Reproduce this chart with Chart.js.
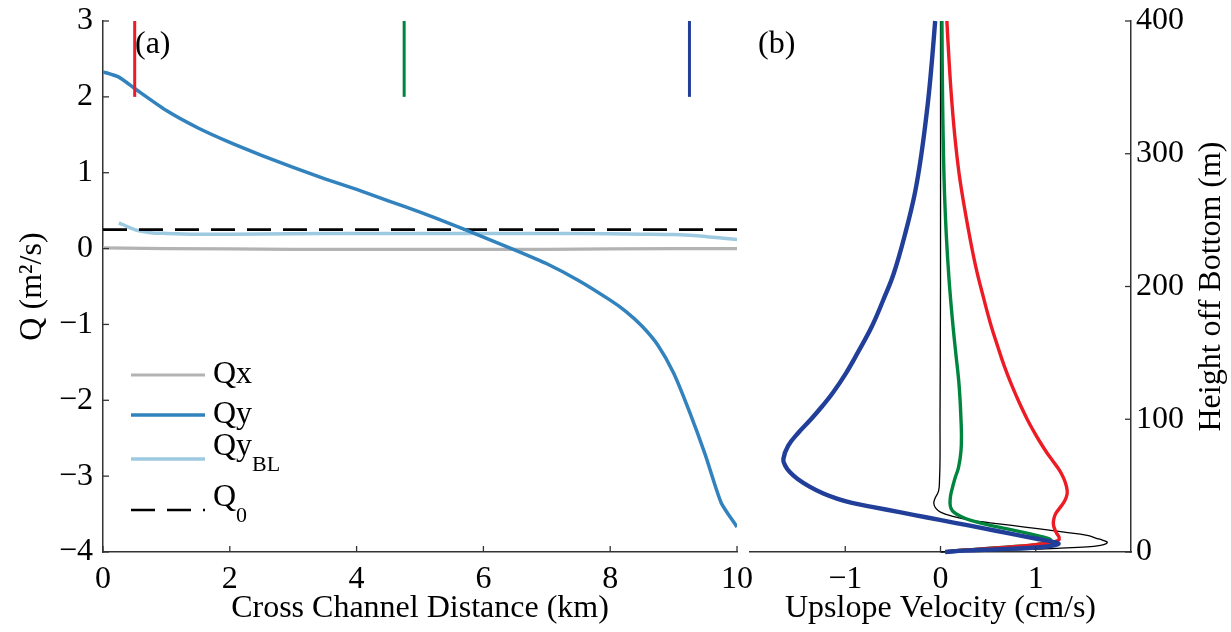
<!DOCTYPE html>
<html>
<head>
<meta charset="utf-8">
<script src="https://cdn.jsdelivr.net/npm/chart.js@4.4.1/dist/chart.umd.min.js"></script>
<style>
  html, body { margin: 0; padding: 0; background: #fff; }
  #wrap { position: relative; width: 1231px; height: 632px; }
  canvas { position: absolute; top: 0; }
  #chartA { left: 0; }
  #chartB { left: 745px; }
</style>
</head>
<body>
<div id="wrap">
  <canvas id="chartA" width="800" height="632"></canvas>
  <canvas id="chartB" width="486" height="632"></canvas>
</div>
<script>
// ---- panel (a): transport vs cross channel distance ----
const qxDist = [0, 1, 2, 3, 4, 5, 6, 7, 8, 9, 10];
const qxVals = [0.01, 0.0, -0.005, -0.01, -0.01, -0.01, -0.01, -0.01, -0.005, 0.0, 0.0];

const qyDist = [0, 0.25, 0.5, 1, 1.5, 2, 2.5, 3, 3.5, 4, 4.5, 5, 5.5, 6, 6.5, 7, 7.5, 8, 8.25, 8.5, 8.75, 9, 9.25, 9.5, 9.75, 10];
const qyVals = [2.33, 2.26, 2.11, 1.82, 1.59, 1.40, 1.23, 1.07, 0.92, 0.78, 0.63, 0.48, 0.32, 0.15, -0.02, -0.20, -0.42, -0.68, -0.83, -1.02, -1.27, -1.64, -2.15, -2.72, -3.35, -3.67];

const qyblDist = [0.25, 0.5, 0.75, 1, 1.5, 2, 3, 4, 5, 6, 7, 8, 8.5, 9, 9.25, 9.5, 9.75, 10];
const qyblVals = [0.34, 0.25, 0.21, 0.20, 0.19, 0.19, 0.195, 0.20, 0.20, 0.20, 0.20, 0.195, 0.19, 0.185, 0.175, 0.16, 0.14, 0.12];

const q0Dist = [0, 10];
const q0Vals = [0.25, 0.25];

// station markers (x position of each profile in panel b)
const markerDist = [0.5, 4.75, 9.25];
const markerSpan = [2, 3];

// ---- panel (b): upslope velocity profiles ----
const hBlue = [0, 1, 2, 3, 4, 5, 6.3, 7.5, 10, 14, 18, 22, 26, 30, 34, 37, 40, 44, 49, 55, 60, 65, 70, 80, 90, 100, 110, 120, 135, 150, 170, 190, 210, 240, 270, 300, 340, 370, 400];
const uBlue = [0.05, 0.25, 0.58, 0.92, 1.10, 1.19, 1.24, 1.19, 1.01, 0.72, 0.44, 0.15, -0.14, -0.43, -0.72, -0.93, -1.08, -1.23, -1.37, -1.50, -1.58, -1.63, -1.65, -1.60, -1.49, -1.36, -1.24, -1.13, -0.99, -0.87, -0.72, -0.60, -0.49, -0.37, -0.27, -0.20, -0.13, -0.09, -0.056];

const hGreen = [0, 1, 2, 3, 4, 5, 6.5, 8, 9, 10.5, 12, 15, 18, 21, 24, 27, 30, 33, 36.5, 42, 47, 55, 64, 76, 88, 100, 115, 130, 150, 175, 205, 240, 280, 340, 400];
const uGreen = [0.05, 0.17, 0.36, 0.55, 0.75, 0.94, 1.07, 1.14, 1.16, 1.12, 1.04, 0.86, 0.66, 0.47, 0.31, 0.21, 0.14, 0.11, 0.10, 0.105, 0.12, 0.15, 0.19, 0.215, 0.22, 0.215, 0.205, 0.19, 0.16, 0.125, 0.09, 0.06, 0.038, 0.022, 0.015];

const hRed = [0, 1, 2, 3, 4.3, 6, 7.5, 9, 11, 14, 17, 21, 25, 29, 33, 38, 44, 50, 56, 62, 68, 75, 84, 92, 100, 112, 127, 140, 155, 172, 192, 215, 242, 280, 310, 340, 370, 400];
const uRed = [0.05, 0.17, 0.37, 0.58, 0.84, 1.06, 1.19, 1.24, 1.245, 1.22, 1.20, 1.185, 1.19, 1.21, 1.25, 1.30, 1.33, 1.32, 1.29, 1.245, 1.185, 1.115, 1.035, 0.97, 0.91, 0.83, 0.74, 0.67, 0.60, 0.525, 0.45, 0.37, 0.295, 0.205, 0.155, 0.118, 0.09, 0.067];

const hBlack = [0, 1, 1.8, 2.8, 3.8, 5, 6.3, 7.5, 9, 10.5, 12.6, 15, 17.6, 20, 22, 24, 27, 30, 33, 36.5, 40, 46, 55, 70, 100, 200, 400];
const uBlack = [0, 0.47, 0.84, 1.22, 1.54, 1.68, 1.74, 1.75, 1.70, 1.63, 1.54, 1.30, 1.02, 0.75, 0.52, 0.31, 0.12, 0.0, -0.05, -0.07, -0.06, -0.02, -0.01, -0.005, -0.005, 0, 0];

const distTicks = [0, 2, 4, 6, 8, 10];
const qTicks = [-4, -3, -2, -1, 0, 1, 2, 3];
const velTicks = [-1, 0, 1];
const heightTicks = [0, 100, 200, 300, 400];

const serif = "'Liberation Serif', 'Times New Roman', serif";
Chart.defaults.font.family = serif;
Chart.defaults.font.size = 32;
Chart.defaults.color = '#000';

const RED = '#ed1c24', GREEN = '#00853f', NAVY = '#213f99';
const AXIS = '#333333';

function xy(xs, ys) { return xs.map((x, i) => ({ x: x, y: ys[i] })); }
function minus(v) { return String(v).replace('-', '\u2212'); }
function fixTicks(list) { return scale => { scale.ticks = list.map(v => ({ value: v })); }; }
// pin the plot box: fixed axis size, no extra edge padding for labels
function fitX(h) { return s => { s.height = h; s.paddingLeft = 0; s.paddingRight = 0; }; }
function fitY(w) { return s => { s.width = w; s.paddingTop = 0; s.paddingBottom = 0; }; }

// inward tick marks, drawn from the library's scales
const inTicks = {
    id: 'inTicks',
    afterDatasetsDraw(chart, args, opts) {
        const ctx = chart.ctx;
        const area = chart.chartArea;
        ctx.save();
        ctx.strokeStyle = AXIS;
        ctx.lineWidth = 1.3;
        Object.values(chart.scales).forEach(scale => {
            scale.ticks.forEach(t => {
                const p = scale.getPixelForValue(t.value);
                ctx.beginPath();
                if (scale.position === 'bottom') { ctx.moveTo(p, area.bottom); ctx.lineTo(p, area.bottom - opts.length); }
                else if (scale.position === 'left') { ctx.moveTo(area.left, p); ctx.lineTo(area.left + opts.length, p); }
                else { ctx.moveTo(area.right, p); ctx.lineTo(area.right - opts.length, p); }
                ctx.stroke();
            });
        });
        ctx.restore();
    }
};

// panel letter and an optional bottom-to-top title on the right axis
const panelText = {
    id: 'panelText',
    afterDraw(chart, args, opts) {
        const ctx = chart.ctx;
        const area = chart.chartArea;
        ctx.save();
        ctx.fillStyle = '#000';
        ctx.font = `32px ${serif}`;
        ctx.textBaseline = 'middle';
        ctx.textAlign = 'left';
        ctx.fillText(opts.label, area.left + opts.dx, area.top + opts.dy);
        if (opts.rightTitle) {
            ctx.translate(area.right + opts.rightTitleOffset, (area.top + area.bottom) / 2);
            ctx.rotate(-Math.PI / 2);
            ctx.textAlign = 'center';
            ctx.fillText(opts.rightTitle, 0, 0);
        }
        ctx.restore();
    }
};

// legend inside panel (a), with subscripts
const inLegend = {
    id: 'inLegend',
    afterDraw(chart, args, opts) {
        const ctx = chart.ctx;
        const items = chart.data.datasets.filter(d => d.label);
        ctx.save();
        items.forEach((d, i) => {
            const y = opts.rows[i];
            ctx.strokeStyle = d.borderColor;
            ctx.lineWidth = d.borderWidth;
            ctx.setLineDash(d.borderDash || []);
            ctx.beginPath();
            ctx.moveTo(opts.x0, y);
            ctx.lineTo(opts.x1, y);
            ctx.stroke();
            ctx.setLineDash([]);
            ctx.fillStyle = '#000';
            ctx.textBaseline = 'middle';
            ctx.textAlign = 'left';
            ctx.font = `32px ${serif}`;
            const ty = d.labelSub ? y - 12 : y;
            ctx.fillText(d.label, opts.textX, ty);
            if (d.labelSub) {
                const w = ctx.measureText(d.label).width;
                ctx.font = `22px ${serif}`;
                ctx.fillText(d.labelSub, opts.textX + w, y + 6);
            }
        });
        ctx.restore();
    }
};

const lineBase = { showLine: true, pointRadius: 0, tension: 0, fill: false };

const markerSets = markerDist.map((d, i) => Object.assign({}, lineBase, {
    data: markerSpan.map(v => ({ x: d, y: v })),
    borderColor: [RED, GREEN, NAVY][i],
    borderWidth: 3,
    order: 0
}));

new Chart(document.getElementById('chartA'), {
    type: 'scatter',
    data: {
        datasets: [
            Object.assign({}, lineBase, { label: 'Qx', data: xy(qxDist, qxVals), borderColor: '#b3b3b3', borderWidth: 3.2, order: 4 }),
            Object.assign({}, lineBase, { label: 'Qy', data: xy(qyDist, qyVals), borderColor: '#3182bd', borderWidth: 3.5, tension: 0.2, order: 1 }),
            Object.assign({}, lineBase, { label: 'Qy', labelSub: 'BL', data: xy(qyblDist, qyblVals), borderColor: '#9ecae1', borderWidth: 3.5, tension: 0.3, order: 3 }),
            Object.assign({}, lineBase, { label: 'Q', labelSub: '0', data: xy(q0Dist, q0Vals), borderColor: '#000', borderWidth: 2.6, borderDash: [24, 12], order: 2 })
        ].concat(markerSets)
    },
    options: {
        responsive: false,
        animation: false,
        events: [],
        layout: { autoPadding: false, padding: { left: 0, top: 21, right: 63, bottom: 0 } },
        scales: {
            x: {
                type: 'linear', position: 'bottom', min: 0, max: 10,
                afterBuildTicks: fixTicks(distTicks),
                afterFit: fitX(80),
                grid: { display: false, drawTicks: false },
                border: { display: true, color: AXIS, width: 1.5 },
                ticks: { padding: 8, maxRotation: 0, callback: minus },
                title: { display: true, text: 'Cross Channel Distance (km)', padding: { top: 0, bottom: 4 } }
            },
            y: {
                type: 'linear', position: 'left', min: -4, max: 3,
                afterBuildTicks: fixTicks(qTicks),
                afterFit: fitY(103),
                grid: { display: false, drawTicks: false },
                border: { display: true, color: AXIS, width: 1.5 },
                ticks: { padding: 10, callback: minus },
                title: { display: true, text: 'Q (m\u00b2/s)', padding: { top: 13, bottom: 0 } }
            }
        },
        plugins: {
            legend: { display: false },
            tooltip: { enabled: false },
            inTicks: { length: 6 },
            panelText: { label: '(a)', dx: 32, dy: 24 },
            inLegend: { x0: 131, x1: 205, textX: 213, rows: [375, 415, 459, 510] }
        }
    },
    plugins: [inTicks, panelText, inLegend]
});

// profiles: smooth splines through the read heights
const profileBase = Object.assign({}, lineBase, { tension: 0.4, clip: false });

new Chart(document.getElementById('chartB'), {
    type: 'scatter',
    data: {
        datasets: [
            Object.assign({}, profileBase, { data: xy(uBlue, hBlue), borderColor: NAVY, borderWidth: 4.4 }),
            Object.assign({}, profileBase, { data: xy(uRed, hRed), borderColor: RED, borderWidth: 3.4 }),
            Object.assign({}, profileBase, { data: xy(uGreen, hGreen), borderColor: GREEN, borderWidth: 3.4 }),
            Object.assign({}, profileBase, { data: xy(uBlack, hBlack), borderColor: '#000', borderWidth: 1.3 })
        ]
    },
    options: {
        responsive: false,
        animation: false,
        events: [],
        layout: { autoPadding: false, padding: { left: 5, top: 21, right: 0, bottom: 0 } },
        scales: {
            x: {
                type: 'linear', position: 'bottom', min: -2, max: 2,
                afterBuildTicks: fixTicks(velTicks),
                afterFit: fitX(80),
                grid: { display: false, drawTicks: false },
                border: { display: true, color: AXIS, width: 1.5 },
                ticks: { padding: 8, maxRotation: 0, callback: minus },
                title: { display: true, text: 'Upslope Velocity (cm/s)', padding: { top: 0, bottom: 4 } }
            },
            y: {
                type: 'linear', position: 'right', min: 0, max: 400,
                afterBuildTicks: fixTicks(heightTicks),
                afterFit: fitY(100),
                grid: { display: false, drawTicks: false },
                border: { display: true, color: AXIS, width: 1.5 },
                ticks: { padding: 5, callback: minus },
                title: { display: false }
            }
        },
        plugins: {
            legend: { display: false },
            tooltip: { enabled: false },
            inTicks: { length: 6 },
            panelText: { label: '(b)', dx: 8, dy: 24, rightTitle: 'Height off Bottom (m)', rightTitleOffset: 81 }
        }
    },
    plugins: [inTicks, panelText]
});
</script>
</body>
</html>
